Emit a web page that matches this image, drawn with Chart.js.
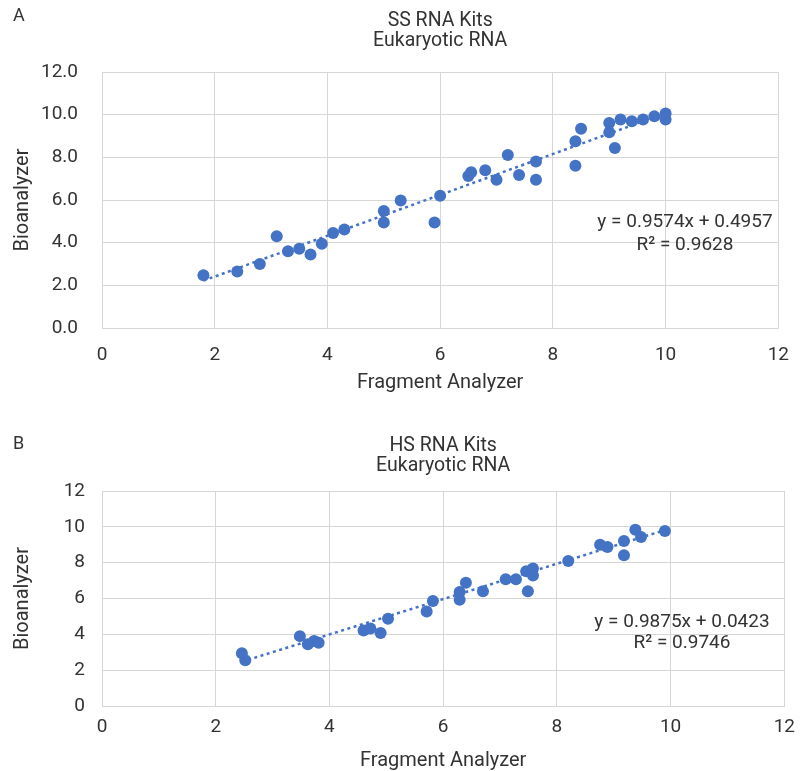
<!DOCTYPE html>
<html>
<head>
<meta charset="utf-8">
<script src="https://cdn.jsdelivr.net/npm/chart.js@4.4.1/dist/chart.umd.min.js"></script>
<style>
  body { margin: 0; background: #fff; width: 805px; height: 771px; position: relative; overflow: hidden; }
  .panel { position: absolute; left: 0; width: 805px; }
</style>
</head>
<body>
<div class="panel" style="top:0; height:400px;"><canvas id="chartA" width="805" height="400" style="width:805px;height:400px;"></canvas></div>
<div class="panel" style="top:400px; height:371px;"><canvas id="chartB" width="805" height="371" style="width:805px;height:371px;"></canvas></div>
<script>
// ---- data ----
// Panel A: SS RNA kits
var ssFragment = [1.8, 2.4, 2.8, 3.1, 3.3, 3.5, 3.7, 3.9, 4.1, 4.3, 5.0, 5.0, 5.3, 5.9, 6.0,
                  6.5, 6.55, 6.8, 7.0, 7.2, 7.4, 7.7, 7.7, 8.4, 8.4, 8.5, 9.0, 9.0, 9.1, 9.2,
                  9.4, 9.6, 9.8, 10.0, 10.0];
var ssBioanalyzer = [2.47, 2.65, 3.0, 4.3, 3.6, 3.72, 3.45, 3.95, 4.45, 4.62, 5.48, 4.95, 5.98, 4.95, 6.2,
                     7.13, 7.3, 7.39, 6.95, 8.11, 7.17, 7.8, 6.95, 8.75, 7.6, 9.34, 9.61, 9.17, 8.44, 9.77,
                     9.69, 9.77, 9.92, 10.05, 9.77];
var ssTrend = { slope: 0.9574, intercept: 0.4957, from: 1.8, to: 10.0 };
var ssEquation = ['y = 0.9574x + 0.4957', 'R\u00B2 = 0.9628'];

// Panel B: HS RNA kits
var hsFragment = [2.46, 2.52, 3.48, 3.62, 3.73, 3.81, 4.6, 4.72, 4.9, 5.03, 5.71, 5.82,
                  6.29, 6.29, 6.4, 6.7, 7.1, 7.28, 7.46, 7.58, 7.58, 7.49, 8.2, 8.76, 8.89,
                  9.18, 9.18, 9.38, 9.48, 9.9];
var hsBioanalyzer = [2.95, 2.55, 3.9, 3.44, 3.63, 3.53, 4.22, 4.32, 4.07, 4.87, 5.28, 5.86,
                     6.36, 5.93, 6.88, 6.4, 7.07, 7.07, 7.52, 7.67, 7.29, 6.4, 8.09, 9.0, 8.87,
                     9.21, 8.41, 9.84, 9.43, 9.77];
var hsTrend = { slope: 0.9875, intercept: 0.0423, from: 2.46, to: 9.9 };
var hsEquation = ['y = 0.9875x + 0.0423', 'R\u00B2 = 0.9746'];

var axisTicks = [0, 2, 4, 6, 8, 10, 12];

var BLUE = '#4472C4';
var GRID = '#d6d6d6';
var TEXT = '#333333';
var FONT = 'Roboto';

// ---- text drawn on top of each panel ----
var panelText = {
  id: 'panelText',
  afterDraw: function(chart, args, opts) {
    var ctx = chart.ctx;
    var area = chart.chartArea;
    ctx.save();
    ctx.fillStyle = TEXT;
    ctx.textBaseline = 'alphabetic';

    ctx.font = '18px ' + FONT;
    ctx.textAlign = 'left';
    ctx.fillText(opts.letter, 13, opts.letterY);

    ctx.font = '19.5px ' + FONT;
    ctx.textAlign = 'center';
    var cx = (area.left + area.right) / 2;
    opts.title.forEach(function(line, i) {
      ctx.fillText(line, cx, opts.titleY[i]);
    });

    ctx.font = '19px ' + FONT;
    opts.equation.forEach(function(line, i) {
      ctx.fillText(line, opts.eqX, opts.eqY[i]);
    });
    ctx.restore();
  }
};

function points(xs, ys) {
  return xs.map(function(x, i) { return { x: x, y: ys[i] }; });
}

function trendPoints(t) {
  return [t.from, t.to].map(function(x) { return { x: x, y: t.slope * x + t.intercept }; });
}

function makeChart(id, cfg) {
  return new Chart(document.getElementById(id).getContext('2d'), {
    type: 'scatter',
    data: {
      datasets: [
        {
          label: 'Samples',
          data: points(cfg.xs, cfg.ys),
          backgroundColor: BLUE,
          borderColor: BLUE,
          borderWidth: 0,
          pointRadius: 6,
          pointHoverRadius: 6,
          order: 2
        },
        {
          type: 'line',
          label: 'Linear trend',
          data: trendPoints(cfg.trend),
          borderColor: BLUE,
          borderWidth: 2.5,
          borderDash: [3, 3.5],
          pointRadius: 0,
          fill: false,
          order: 1
        }
      ]
    },
    options: {
      responsive: false,
      animation: false,
      events: [],
      layout: { padding: { left: 0, right: cfg.padRight, top: cfg.padTop, bottom: 0 } },
      plugins: {
        legend: { display: false },
        tooltip: { enabled: false },
        panelText: cfg.text
      },
      scales: {
        x: {
          type: 'linear',
          min: 0, max: 12,
          afterBuildTicks: function(s) { s.ticks = axisTicks.map(function(v) { return { value: v }; }); },
          afterFit: function(s) { s.height = cfg.xHeight; },
          grid: { color: GRID, lineWidth: 1, drawTicks: false },
          border: { color: GRID },
          ticks: { color: TEXT, font: { family: FONT, size: 19 }, padding: cfg.xTickPad, maxRotation: 0 },
          title: { display: true, text: 'Fragment Analyzer', color: TEXT, font: { family: FONT, size: 20 }, padding: { top: 0, bottom: cfg.xTitlePad } }
        },
        y: {
          type: 'linear',
          min: 0, max: 12,
          afterBuildTicks: function(s) { s.ticks = axisTicks.map(function(v) { return { value: v }; }); },
          afterFit: function(s) { s.width = 102; },
          grid: { color: GRID, lineWidth: 1, drawTicks: false },
          border: { color: GRID },
          ticks: {
            color: TEXT, font: { family: FONT, size: 19 }, padding: cfg.yTickPad,
            callback: function(v) { return cfg.decimals ? v.toFixed(1) : String(v); }
          },
          title: { display: true, text: 'Bioanalyzer', color: TEXT, font: { family: FONT, size: 20 }, padding: { top: 11, bottom: 0 } }
        }
      }
    },
    plugins: [panelText]
  });
}

makeChart('chartA', {
  xs: ssFragment, ys: ssBioanalyzer, trend: ssTrend, decimals: true,
  padTop: 72, padRight: 13, xHeight: 72, xTickPad: 16, xTitlePad: 5, yTickPad: 24,
  text: { letter: 'A', letterY: 21, title: ['SS RNA Kits', 'Eukaryotic RNA'], titleY: [26, 46],
          equation: ssEquation, eqX: 685, eqY: [227, 250] }
});

makeChart('chartB', {
  xs: hsFragment, ys: hsBioanalyzer, trend: hsTrend, decimals: false,
  padTop: 91, padRight: 15, xHeight: 65, xTickPad: 10, xTitlePad: -2, yTickPad: 17,
  text: { letter: 'B', letterY: 49, title: ['HS RNA Kits', 'Eukaryotic RNA'], titleY: [51, 71],
          equation: hsEquation, eqX: 682, eqY: [227, 248] }
});
</script>
</body>
</html>
